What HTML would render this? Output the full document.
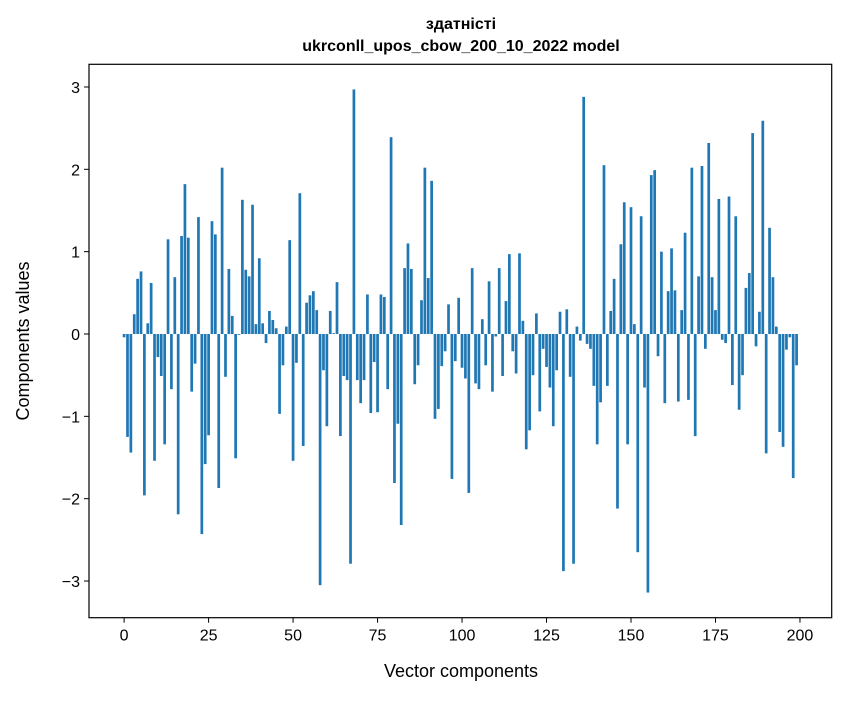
<!DOCTYPE html>
<html><head><meta charset="utf-8"><style>
body{margin:0;background:#fff;}
svg text{font-family:"Liberation Sans","DejaVu Sans",sans-serif;fill:#000;}
</style></head><body>
<svg width="847" height="696" viewBox="0 0 847 696">
<text x="461" y="29" text-anchor="middle" font-size="16" font-weight="bold">здатністі</text>
<text x="461" y="51" text-anchor="middle" font-size="16" font-weight="bold">ukrconll_upos_cbow_200_10_2022 model</text>
<g id="bars"></g>
<g id="axes"></g>
<rect x="89" y="64.3" width="742.7" height="553.4" fill="none" stroke="#000" stroke-width="1.2"/>
<text x="461" y="677" text-anchor="middle" font-size="18">Vector components</text>
<text transform="translate(29,341) rotate(-90)" text-anchor="middle" font-size="18">Components values</text>
</svg>
<script>
const values = [-0.04,-1.25,-1.44,0.24,0.67,0.76,-1.96,0.13,0.62,-1.54,-0.28,-0.51,-1.34,1.15,-0.67,0.69,-2.19,1.19,1.82,1.17,
-0.70,-0.36,1.42,-2.43,-1.58,-1.23,1.37,1.21,-1.87,2.02,-0.52,0.79,0.22,-1.51,-0.01,1.63,0.78,0.70,1.57,0.12,
0.92,0.13,-0.11,0.28,0.17,0.07,-0.97,-0.38,0.09,1.14,-1.54,-0.35,1.71,-1.36,0.38,0.47,0.52,0.29,-3.05,-0.44,
-1.12,0.28,0.01,0.63,-1.24,-0.51,-0.56,-2.79,2.97,-0.56,-0.84,-0.56,0.48,-0.96,-0.34,-0.95,0.48,0.45,-0.67,2.39,
-1.81,-1.09,-2.32,0.80,1.10,0.79,-0.61,-0.38,0.41,2.02,0.68,1.86,-1.03,-0.91,-0.39,-0.21,0.36,-1.76,-0.33,0.44,
-0.41,-0.54,-1.93,0.80,-0.60,-0.67,0.18,-0.38,0.64,-0.70,-0.03,0.80,-0.51,0.40,0.97,-0.21,-0.48,0.98,0.16,-1.40,
-1.17,-0.50,0.25,-0.94,-0.18,-0.40,-0.65,-1.12,-0.44,0.27,-2.88,0.30,-0.52,-2.79,0.09,-0.08,2.88,-0.12,-0.18,-0.63,
-1.34,-0.83,2.05,-0.63,0.28,0.67,-2.12,1.09,1.60,-1.34,1.54,0.12,-2.65,1.43,-0.65,-3.14,1.93,1.99,-0.27,1.00,
-0.84,0.52,1.04,0.53,-0.82,0.29,1.23,-0.80,2.02,-1.24,0.70,2.04,-0.18,2.32,0.69,0.29,1.64,-0.07,-0.11,1.67,
-0.62,1.43,-0.92,-0.50,0.56,0.74,2.44,-0.15,0.27,2.59,-1.45,1.29,0.69,0.09,-1.19,-1.37,-0.19,-0.04,-1.75,-0.38];
const xTicks = [0,25,50,75,100,125,150,175,200];
const yTicks = [-3,-2,-1,0,1,2,3];
const yTickLabels = ["−3","−2","−1","0","1","2","3"];

const X0=89, X1=831.7, Y0=64.3, Y1=617.7;
const xmin=-10.39, xmax=209.39, ymin=-3.4455, ymax=3.2755;
const xs=v=>X0+(v-xmin)/(xmax-xmin)*(X1-X0);
const ys=v=>Y1-(v-ymin)/(ymax-ymin)*(Y1-Y0);
const NS="http://www.w3.org/2000/svg";
const bg=document.getElementById('bars');
values.forEach((v,i)=>{
  const r=document.createElementNS(NS,'rect');
  const xl=xs(i-0.4), xr=xs(i+0.4);
  const y=ys(Math.max(v,0)), y2=ys(Math.min(v,0));
  r.setAttribute('x',xl);r.setAttribute('width',xr-xl);
  r.setAttribute('y',y);r.setAttribute('height',Math.max(y2-y,0.01));
  r.setAttribute('fill','#1f77b4');
  
  
  bg.appendChild(r);
});
const ax=document.getElementById('axes');
xTicks.forEach(t=>{
  const l=document.createElementNS(NS,'line');
  l.setAttribute('x1',xs(t));l.setAttribute('x2',xs(t));l.setAttribute('y1',Y1);l.setAttribute('y2',Y1+5);
  l.setAttribute('stroke','#000');
  
  
  ax.appendChild(l);
  const tx=document.createElementNS(NS,'text');
  tx.setAttribute('x',xs(t));tx.setAttribute('y',Y1+23);tx.setAttribute('text-anchor','middle');tx.setAttribute('font-size','16');
  tx.textContent=String(t);
  
  
  ax.appendChild(tx);
});
yTicks.forEach((t,k)=>{
  const l=document.createElementNS(NS,'line');
  l.setAttribute('x1',X0-5);l.setAttribute('x2',X0);l.setAttribute('y1',ys(t));l.setAttribute('y2',ys(t));
  l.setAttribute('stroke','#000');
  
  
  ax.appendChild(l);
  const tx=document.createElementNS(NS,'text');
  tx.setAttribute('x',X0-9);tx.setAttribute('y',ys(t)+6);tx.setAttribute('text-anchor','end');tx.setAttribute('font-size','16');
  tx.textContent=yTickLabels[k];
  
  
  ax.appendChild(tx);
});
</script>
</body></html>
